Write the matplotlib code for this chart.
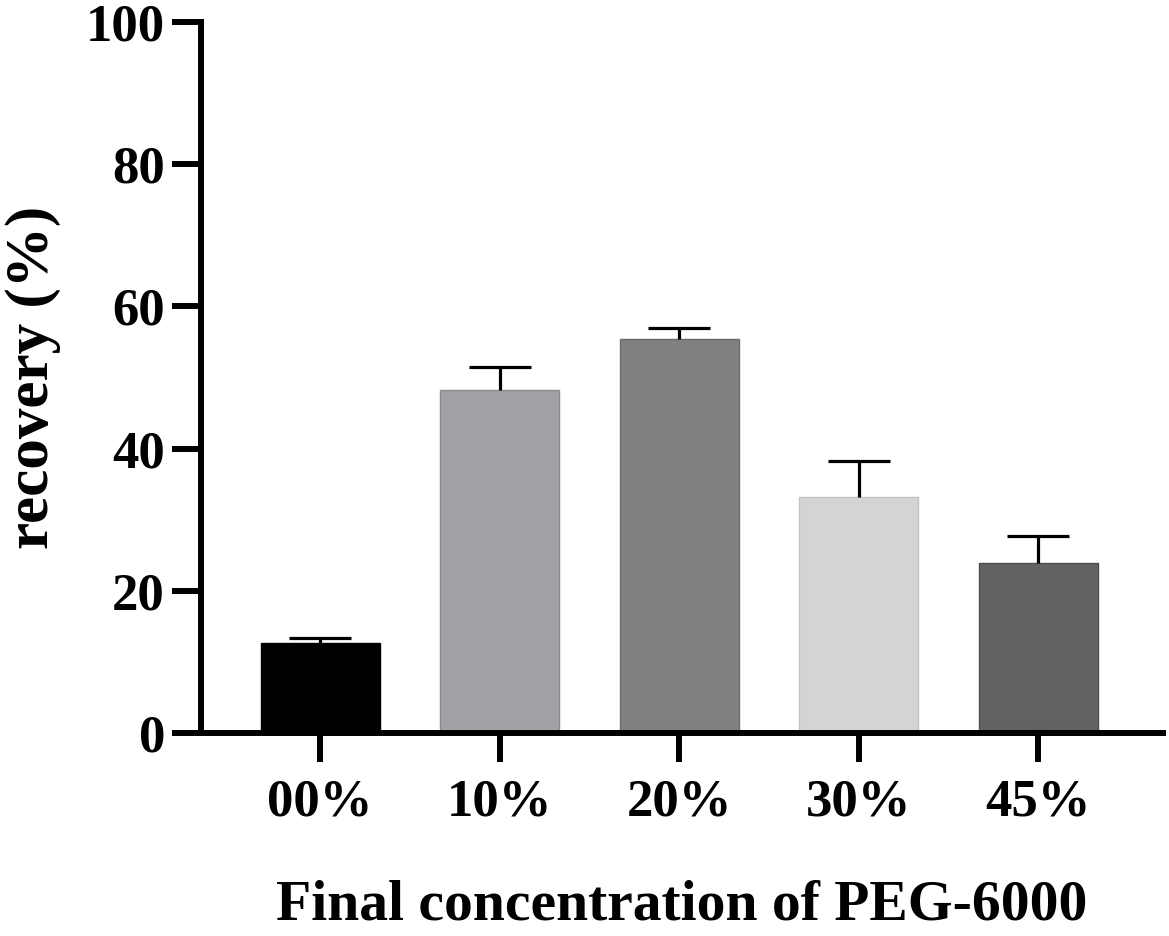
import matplotlib.pyplot as plt
import numpy as np

plt.rcParams["font.family"] = ["Liberation Serif", "DejaVu Serif"]
plt.rcParams["font.weight"] = "bold"

labels = ["00%", "10%", "20%", "30%", "45%"]
recovery = [12.7, 48.3, 55.4, 33.2, 23.9]
sd = [0.7, 3.2, 1.5, 5.1, 3.8]
colors = ["#000000", "#a1a1a5", "#808080", "#d4d4d4", "#626262"]
edges = ["#000000", "#8a8a8e", "#6a6a6a", "#c4c4c4", "#4e4e4e"]

W, H = 1169, 936
fig = plt.figure(figsize=(W / 100, H / 100), dpi=100)
ax = fig.add_axes([201 / W, (H - 733) / H, (1163 - 201) / W, (733 - 22) / H])

x = np.arange(len(labels))
ax.bar(x, recovery, width=0.663, color=colors, edgecolor=edges, linewidth=1.0, zorder=2)
eb = ax.errorbar(x, recovery, yerr=[np.zeros(len(sd)), sd], fmt="none", ecolor="black",
                 elinewidth=2.3, capsize=22, capthick=2.3, zorder=3)
# only the upper half of the error bar has a cap
eb[1][0].set_visible(False)

ax.set_xlim(-0.663, 4.696)
ax.set_ylim(0, 100)
ax.set_yticks([0, 20, 40, 60, 80, 100])
ax.set_xticks(x)
ax.set_xticklabels(labels)

for s in ["top", "right"]:
    ax.spines[s].set_visible(False)
for s in ["left", "bottom"]:
    ax.spines[s].set_linewidth(4.3)
ax.tick_params(axis="both", length=21, width=4.3, labelsize=38)
ax.tick_params(axis="x", pad=12)
ax.tick_params(axis="y", pad=5)
for t in ax.get_xticklabels() + ax.get_yticklabels():
    t.set_fontweight("bold")

ax.set_ylabel("recovery (%)", fontsize=44, fontweight="bold", labelpad=18)
ax.set_xlabel("Final concentration of PEG-6000", fontsize=41.5, fontweight="bold", labelpad=38)

fig.savefig("out.png", dpi=100)
